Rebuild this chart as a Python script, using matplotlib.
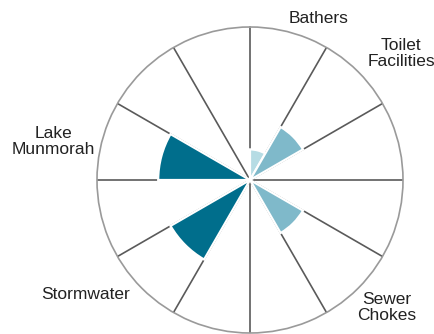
import numpy as np
import matplotlib.pyplot as plt

# complaint categories and the 30-degree sector each one occupies (0 = north, clockwise)
categories = ["Bathers", "Toilet Facilities", "Sewer Chokes", "Stormwater", "Lake Munmorah"]
sectors = [0, 1, 4, 7, 9]
counts = [1, 2, 2, 3, 3]
tick_labels = ["Bathers", "Toilet\nFacilities", "Sewer\nChokes", "Stormwater", "Lake\nMunmorah"]

N_SECTORS = 12
R_MAX = 5

LIGHT = "#b6dce4"
MID = "#7fb9ca"
DARK = "#006e8c"
bar_colors = [LIGHT, MID, MID, DARK, DARK]

# where each category name sits outside the wheel: (angle in degrees, radius)
label_pos = [(23, 5.75), (50, 6.45), (133, 6.1), (235, 6.55), (281, 6.55)]

plt.rcParams["font.family"] = ["Liberation Sans", "DejaVu Sans"]

fig = plt.figure(figsize=(4.34, 3.34), dpi=100)
ax = fig.add_axes([97 / 434, 1 / 334, 306 / 434, 306 / 334], projection="polar")
ax.set_theta_zero_location("N")
ax.set_theta_direction(-1)

width = 2 * np.pi / N_SECTORS
theta = (np.array(sectors) + 0.5) * width
ax.bar(theta, counts, width=width, color=bar_colors, edgecolor="white",
       linewidth=1.6, zorder=3)

ax.set_ylim(0, R_MAX)
ax.set_yticks([])
ax.set_xticks(np.arange(N_SECTORS) * width)
ax.set_xticklabels([])
ax.xaxis.grid(True, color="#5a5a5a", linewidth=1.2)
ax.yaxis.grid(False)
ax.spines["polar"].set_color("#9a9a9a")
ax.spines["polar"].set_linewidth(1.2)
ax.set_axisbelow(True)

for text, (ang, r) in zip(tick_labels, label_pos):
    ax.text(np.deg2rad(ang), r, text, ha="center", va="center", fontsize=12.5,
            color="#222222", linespacing=1.1, clip_on=False)

fig.savefig("out.png", dpi=100)
